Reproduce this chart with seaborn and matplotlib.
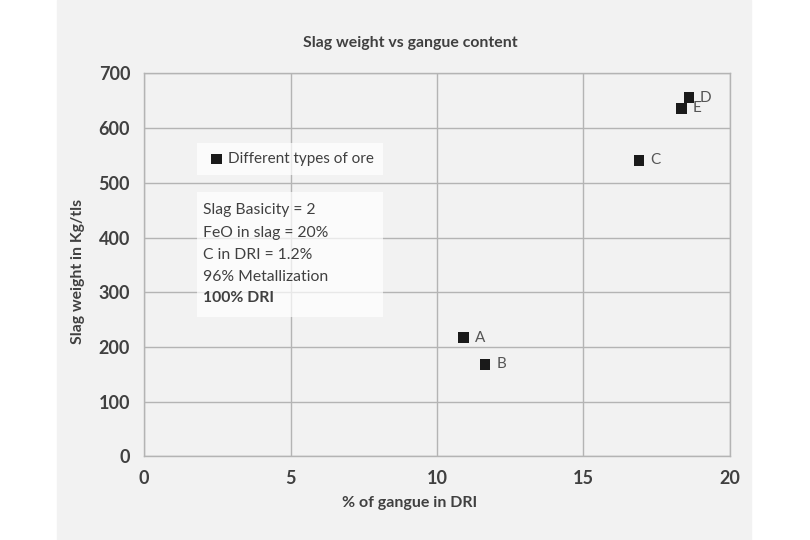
import pandas as pd
import matplotlib.pyplot as plt
import seaborn as sns
from matplotlib.patches import Rectangle

# data
ores = ['A', 'B', 'C', 'D', 'E']
gangue_pct = [10.9, 11.65, 16.9, 18.6, 18.35]
slag_weight = [217, 168, 541, 656, 636]

x_ticks = [0, 5, 10, 15, 20]
y_ticks = [0, 100, 200, 300, 400, 500, 600, 700]

notes = ['Slag Basicity = 2', 'FeO in slag = 20%', 'C in DRI = 1.2%',
         '96% Metallization', '100% DRI']

df = pd.DataFrame({'ore': ores, 'gangue': gangue_pct, 'slag': slag_weight})

sns.set_theme(style='white')
plt.rcParams['font.family'] = ['Lato', 'DejaVu Sans']

text_col = '#404040'
grid_col = '#b4b4b4'
panel_col = '#f2f2f2'

fig = plt.figure(figsize=(8.1, 5.4), dpi=100)
fig.patch.set_facecolor('white')
bg = Rectangle((57 / 810, 0), (751 - 57) / 810, 1,
               transform=fig.transFigure, color=panel_col, zorder=-10)
fig.add_artist(bg)

ax = fig.add_axes([0.1778, 0.155, 0.7234, 0.709])
ax.set_facecolor(panel_col)

sns.scatterplot(data=df, x='gangue', y='slag', marker='s', s=55, color='#1a1a1a',
                edgecolor='none', label='Different types of ore', ax=ax, zorder=3)

for name, xv, yv in zip(ores, gangue_pct, slag_weight):
    ax.annotate(name, (xv, yv), xytext=(8, 0), textcoords='offset points',
                va='center', ha='left', fontsize=11, color='#555555', zorder=4)

ax.set_xlim(0, 20)
ax.set_ylim(0, 700)
ax.set_xticks(x_ticks)
ax.set_yticks(y_ticks)
ax.grid(True, color=grid_col, linewidth=1)
ax.set_axisbelow(True)
for sp in ax.spines.values():
    sp.set_color(grid_col)
    sp.set_linewidth(1)
ax.tick_params(length=0, labelsize=13, labelcolor=text_col)
ax.tick_params(axis='x', pad=10)
ax.tick_params(axis='y', pad=10)
for lab in ax.get_xticklabels() + ax.get_yticklabels():
    lab.set_fontweight('bold')
ax.set_xlabel('')
ax.set_ylabel('')

leg = ax.legend(loc='center left', bbox_to_anchor=(0.09, 0.776, 0.318, 0),
                mode='expand', borderaxespad=0, frameon=True, fancybox=False,
                fontsize=11, handlelength=1.4, handletextpad=0.05, borderpad=0.6)
leg.get_frame().set_facecolor('white')
leg.get_frame().set_alpha(0.7)
leg.get_frame().set_edgecolor('none')
for t in leg.get_texts():
    t.set_color(text_col)

ax.add_patch(Rectangle((0.090, 0.3645), 0.318, 0.325, transform=ax.transAxes,
                       facecolor='white', alpha=0.7, edgecolor='none', zorder=2))
note_y = [0.643, 0.584, 0.526, 0.469, 0.413]
for i, (txt, yy) in enumerate(zip(notes, note_y)):
    ax.text(0.101, yy, txt, transform=ax.transAxes, va='center', ha='left',
            fontsize=11.3, color=text_col, zorder=3,
            fontweight='bold' if i == len(notes) - 1 else 'normal')

fig.text(0.506, 0.920, 'Slag weight vs gangue content', ha='center', va='center',
         fontsize=11.4, fontweight='bold', color=text_col)
fig.text(0.506, 0.0685, '% of gangue in DRI', ha='center', va='center',
         fontsize=11.5, fontweight='bold', color=text_col)
fig.text(0.096, 0.498, 'Slag weight in Kg/tls', ha='center', va='center',
         rotation=90, fontsize=11.3, fontweight='bold', color=text_col)

fig.savefig('out.png', dpi=100)
